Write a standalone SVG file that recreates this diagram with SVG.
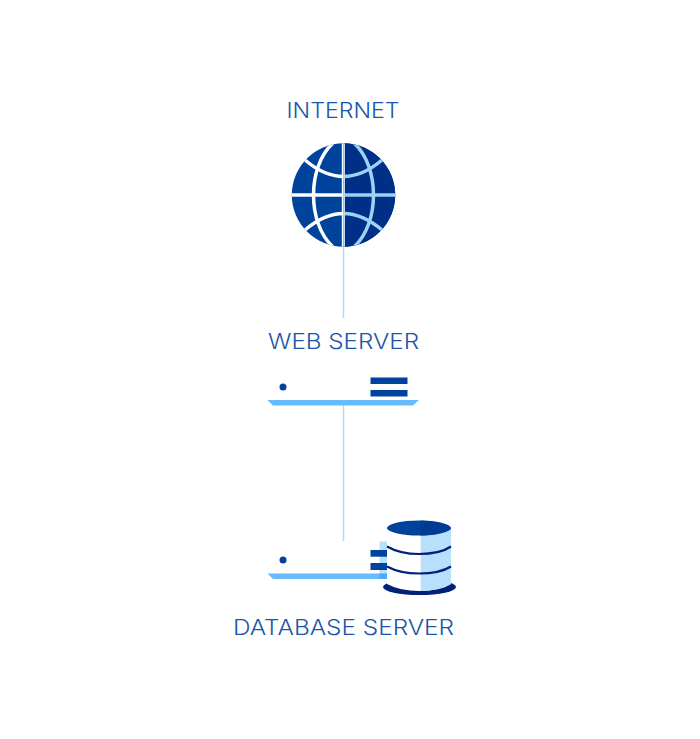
<svg xmlns="http://www.w3.org/2000/svg" width="700" height="739" viewBox="0 0 700 739">
<defs>
<style>
.lbl{font-family:"Inter","Liberation Sans",sans-serif;font-weight:300;font-size:21.500px;fill:#1a56a8;text-anchor:middle}
.wire{stroke:#aed9fa;stroke-width:1.500;fill:none}
.dk{fill:#00439c}
.base{fill:#66bbff}
.gw{stroke:#fff;stroke-width:3.500;fill:none}
.gb{stroke:#9fd0f5;stroke-width:3.500;fill:none}
.band{stroke:#00207a;stroke-width:2.200;fill:none}
</style>
<clipPath id="gl"><rect x="280" y="130" width="63.500" height="130"/></clipPath>
<clipPath id="gr"><rect x="343.500" y="130" width="63.500" height="130"/></clipPath>
<clipPath id="globe"><circle cx="343.500" cy="195" r="51.700"/></clipPath>
</defs>
<rect width="700" height="739" fill="#fff"/>
<g id="connectors">
<line class="wire" x1="343.500" y1="245" x2="343.500" y2="318"/>
<line class="wire" x1="343.500" y1="405" x2="343.500" y2="541"/>
</g>
<g id="internet">
<text class="lbl" x="343" y="118" textLength="113" lengthAdjust="spacingAndGlyphs">INTERNET</text>
<circle cx="343.500" cy="195" r="51.700" fill="#00439c"/>
<g clip-path="url(#globe)">
<rect x="343.500" y="140" width="55" height="110" fill="#002f87"/>
<g clip-path="url(#gl)">
<path class="gw" d="M333 143C320 155 313.500 175 313.500 195C313.500 215 320 235 333 247"/>
<path class="gw" d="M305 160C318 171 330 176.500 343.500 176.500"/>
<path class="gw" d="M305 230C318 219 330 213.500 343.500 213.500"/>
<line class="gw" x1="290" y1="195" x2="343.500" y2="195"/>
</g>
<g clip-path="url(#gr)">
<path class="gb" d="M354 143C367 155 373.500 175 373.500 195C373.500 215 367 235 354 247"/>
<path class="gb" d="M382 160C369 171 357 176.500 343.500 176.500"/>
<path class="gb" d="M382 230C369 219 357 213.500 343.500 213.500"/>
<line class="gb" x1="343.500" y1="195" x2="397" y2="195"/>
</g>
<rect x="341.800" y="142" width="1.700" height="106" fill="#fff"/>
<rect x="343.500" y="142" width="1.500" height="106" fill="#b5dcf8"/>
</g>
</g>
<g id="web-server">
<text class="lbl" x="343.500" y="349" textLength="151" lengthAdjust="spacingAndGlyphs">WEB SERVER</text>
<circle class="dk" cx="283" cy="387" r="3.500"/>
<rect class="dk" x="370.500" y="377.500" width="37" height="6.500"/>
<rect class="dk" x="370.500" y="390" width="37" height="6.500"/>
<polygon class="base" points="267.500,400 419,400 413,405.500 273,405.500"/>
</g>
<g id="database-server">
<text class="lbl" x="343.500" y="635" textLength="221" lengthAdjust="spacingAndGlyphs">DATABASE SERVER</text>
<circle class="dk" cx="283" cy="560" r="3.500"/>
<rect x="379.500" y="541.500" width="8" height="32" fill="#b8dffc"/>
<rect class="dk" x="370.500" y="550" width="17" height="6.700"/>
<rect class="dk" x="370.500" y="563" width="17" height="7"/>
<polygon class="base" points="267.500,573.500 387,573.500 387,579 273,579"/>
<rect x="379.500" y="573.500" width="8" height="5.500" fill="#4aa8ff"/>
<ellipse cx="419.500" cy="587" rx="36.500" ry="8" fill="#00207a"/>
<path d="M387 528V584Q400 591 419 591Q440 591 451 584V528Z" fill="#fff"/>
<path d="M420.700 528V591Q440 591 451 584V528Z" fill="#b8dffc"/>
<ellipse cx="419" cy="528" rx="32" ry="7.500" fill="#00439c"/>
<path d="M420.700 520.500Q440 520.500 451 528Q440 535.500 420.700 535.500Z" fill="#003a94"/>
<path class="band" d="M387 546.500Q400 554 419 554Q440 554 451 546.500"/>
<path class="band" d="M387 566.500Q400 573.500 419 573.500Q440 573.500 451 566.500"/>
</g>
</svg>
